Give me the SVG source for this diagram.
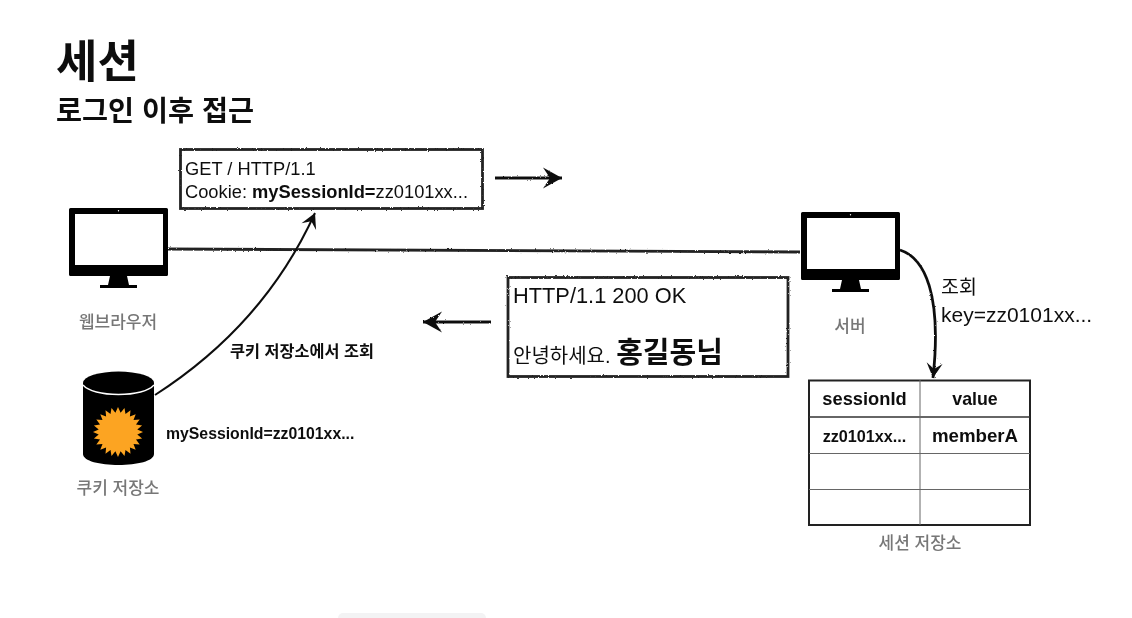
<svg xmlns="http://www.w3.org/2000/svg" width="1132" height="618" viewBox="0 0 1132 618">
<style>
text{font-family:"Liberation Sans","Noto Sans CJK KR",sans-serif;fill:#111}
.b{font-weight:700}
.g{fill:#777;font-size:17px;font-weight:500;text-anchor:middle}
.box{fill:#fff;stroke:#222;stroke-width:2.8}
.rough{fill:none;stroke:#222;stroke-width:2.8}
.arrow{fill:none;stroke:#111;stroke-width:2.800}
.thin{stroke:#666;stroke-width:1;fill:none}
.mon{fill:#000}
</style>
<defs>
<filter id="sketch" filterUnits="userSpaceOnUse" x="0" y="0" width="1132" height="618"><feTurbulence type="fractalNoise" baseFrequency="0.6" numOctaves="2" seed="3"/><feDisplacementMap in="SourceGraphic" scale="2.2"/></filter>
<filter id="soft" filterUnits="userSpaceOnUse" x="0" y="0" width="1132" height="618"><feGaussianBlur stdDeviation="0.45"/></filter>
<marker id="head" viewBox="-21 -12 23 24" refX="0" refY="0" markerWidth="23" markerHeight="24" markerUnits="userSpaceOnUse" orient="auto"><path d="M0,0L-19,-10.500L-12,0L-19,10.500Z" fill="#111"/></marker>
<marker id="headS" viewBox="-17 -10 19 20" refX="0" refY="0" markerWidth="19" markerHeight="20" markerUnits="userSpaceOnUse" orient="auto"><path d="M0,0L-15,-8L-9,0L-15,8Z" fill="#111"/></marker>
<symbol id="monitor" viewBox="0 0 99 80" overflow="visible">
<path class="mon" fill-rule="evenodd" d="M1.5,0H97.5Q99,0 99,1.5V66.5Q99,68 97.5,68H1.5Q0,68 0,66.5V1.5Q0,0 1.5,0ZM6,6V57H94V6Z"/>
<path class="mon" d="M41,68H58L60,77H68V80H31V77H39Z"/>
<circle cx="49.500" cy="2.800" r="0.700" fill="#fff"/>
</symbol>
</defs>
<rect width="1132" height="618" fill="#fff"/>
<g id="diagram" filter="url(#soft)">
<rect x="338" y="613" width="148" height="10" rx="5" fill="#f3f3f4"/>
<g id="title">
<text class="b" x="56" y="78" font-size="45">세션</text>
<text class="b" x="56" y="121" font-size="28.300">로그인 이후 접근</text>
</g>
<g id="connectors">
<path class="rough" filter="url(#sketch)" d="M168,249L800,252"/>
<path fill="none" stroke="#111" stroke-width="2" d="M155,395C225,350 280,290 315,213" marker-end="url(#headS)"/>
<g filter="url(#sketch)">
<path class="arrow" d="M900,250C925,258 942,295 933,378" marker-end="url(#headS)"/>
<path class="arrow" d="M495,178H562" marker-end="url(#head)"/>
<path class="arrow" d="M491,322H423" marker-end="url(#head)"/>
</g>
</g>
<g id="browser">
<use href="#monitor" x="69" y="208" width="99" height="80"/>
<text class="g" x="118" y="328">웹브라우저</text>
</g>
<g id="server">
<use href="#monitor" x="801" y="212" width="99" height="80"/>
<text class="g" x="850" y="332">서버</text>
</g>
<g id="request">
<rect class="box" x="180.500" y="149.500" width="302" height="59" filter="url(#sketch)"/>
<text x="185" y="175" font-size="18.300">GET / HTTP/1.1</text>
<text x="185" y="198" font-size="18.300">Cookie: <tspan class="b">mySessionId=</tspan>zz0101xx...</text>
</g>
<g id="response">
<rect class="box" x="508" y="277.500" width="280" height="99" filter="url(#sketch)"/>
<text x="513" y="303" font-size="21.800">HTTP/1.1 200 OK</text>
<text x="513" y="363" font-size="20">안녕하세요. <tspan class="b" font-size="29">홍길동님</tspan></text>
</g>
<g id="cookie-store">
<path d="M83,383V454C83,461 100,465 118.500,465S154,461 154,454V383Z" fill="#000"/>
<ellipse cx="118.500" cy="383" rx="35.500" ry="11.500" fill="#000"/>
<path d="M83,385C88,391 102,394.500 118.500,394.500S149,391 154,385" fill="none" stroke="#fff" stroke-width="1.300"/>
<polygon transform="translate(118,432)" fill="#fca420" points="25,0 19.300,2.600 24.100,6.500 18,7.500 21.700,12.500 15.500,11.900 17.700,17.700 11.900,15.500 12.500,21.700 7.500,18 6.500,24.100 2.600,19.300 0,25 -2.600,19.300 -6.500,24.100 -7.500,18 -12.500,21.700 -11.900,15.500 -17.700,17.700 -15.500,11.900 -21.700,12.500 -18,7.500 -24.100,6.500 -19.300,2.600 -25,0 -19.300,-2.600 -24.100,-6.500 -18,-7.500 -21.700,-12.500 -15.500,-11.900 -17.700,-17.700 -11.900,-15.500 -12.500,-21.700 -7.500,-18 -6.500,-24.100 -2.600,-19.300 0,-25 2.600,-19.300 6.500,-24.100 7.500,-18 12.500,-21.700 11.900,-15.500 17.700,-17.700 15.500,-11.900 21.700,-12.500 18,-7.500 24.100,-6.500 19.300,-2.600"/>
<text class="g" x="118" y="494">쿠키 저장소</text>
<text class="b" x="166" y="439" font-size="15.800">mySessionId=zz0101xx...</text>
</g>
<g id="labels">
<text class="b" x="230" y="357" font-size="16.300">쿠키 저장소에서 조회</text>
<text x="941" y="294" font-size="19.500">조회</text>
<text x="941" y="322" font-size="21">key=zz0101xx...</text>
</g>
<g id="session-store">
<rect x="809" y="380.500" width="221" height="144.500" fill="#fff" stroke="#222" stroke-width="2"/>
<path d="M809,417H1030" stroke="#333" stroke-width="1.500" fill="none"/>
<path class="thin" d="M809,453.500H1030M809,489.500H1030M920,380V525"/>
<text class="b" x="864.500" y="405" font-size="18.300" text-anchor="middle">sessionId</text>
<text class="b" x="975" y="405" font-size="17.800" text-anchor="middle">value</text>
<text class="b" x="864.500" y="442" font-size="16.200" text-anchor="middle">zz0101xx...</text>
<text class="b" x="975" y="442" font-size="18.700" text-anchor="middle">memberA</text>
<text class="g" x="920" y="549">세션 저장소</text>
</g>
</g>
</svg>
